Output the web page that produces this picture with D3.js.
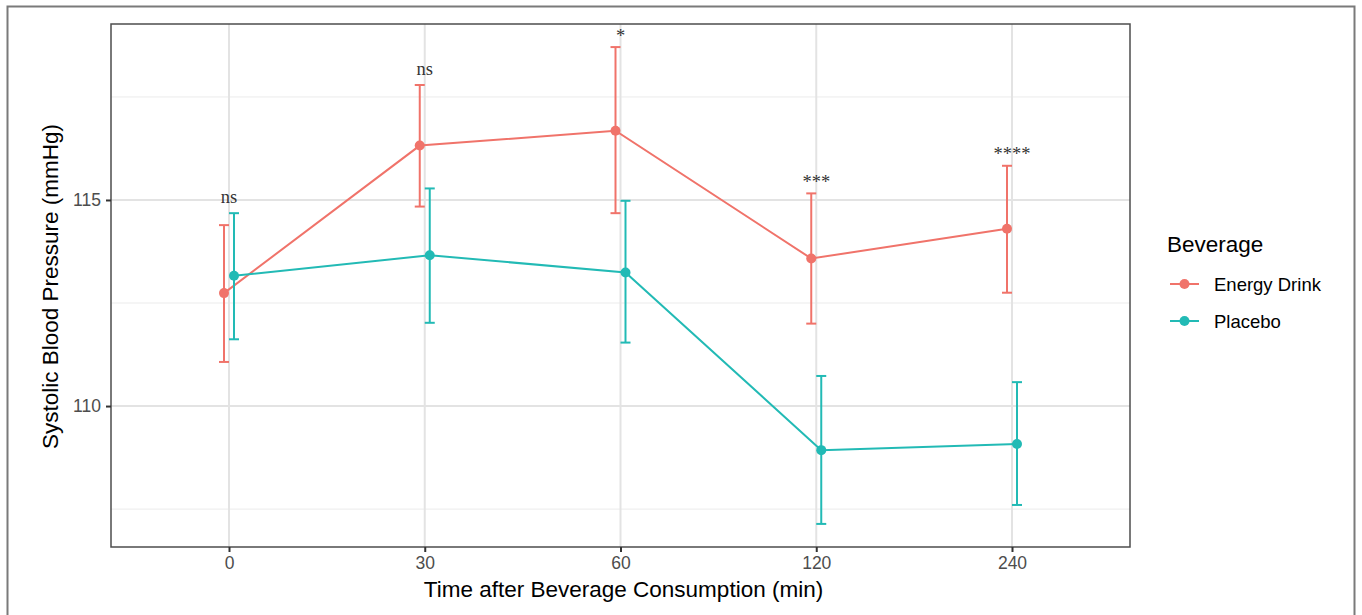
<!DOCTYPE html>
<html>
<head>
<meta charset="utf-8">
<script src="https://cdn.jsdelivr.net/npm/d3@7"></script>
<style>
  body { margin: 0; background: #fff; }
  svg { display: block; }
</style>
</head>
<body>
<svg id="chart" width="1362" height="615"></svg>
<script>
// ---- data ----
const times = ["0", "30", "60", "120", "240"];
const seriesNames = ["Energy Drink", "Placebo"];
const energyMean  = [112.74, 116.32, 116.68, 113.58, 114.30];
const energyLower = [111.07, 114.84, 114.68, 112.00, 112.75];
const energyUpper = [114.39, 117.79, 118.71, 115.16, 115.83];
const placeboMean  = [113.16, 113.66, 113.24, 108.93, 109.08];
const placeboLower = [111.62, 112.02, 111.54, 107.14, 107.60];
const placeboUpper = [114.68, 115.28, 114.98, 110.73, 110.58];
const significance = ["ns", "ns", "*", "***", "****"];
const yTicks = [110, 115];
const yMinor = [107.5, 112.5, 117.5];
const colors = ["#F0736A", "#22BAB5"];

const series = [
  { name: seriesNames[0], mean: energyMean, lo: energyLower, hi: energyUpper, color: colors[0], dodge: -1 },
  { name: seriesNames[1], mean: placeboMean, lo: placeboLower, hi: placeboUpper, color: colors[1], dodge: 1 }
];

const svg = d3.select("#chart");
const sans = "Liberation Sans, Arial, Helvetica, sans-serif";

// outer frame
svg.append("path")
  .attr("d", "M7.5,616 L7.5,6.5 L1354.5,6.5 L1354.5,616")
  .attr("fill", "none").attr("stroke", "#7a7a7a").attr("stroke-width", 2);

const L = 111, T = 24, R = 1130, B = 547;

const x = d3.scalePoint().domain(times).range([229, 1012]);
const y = d3.scaleLinear().domain([106.58, 119.27]).range([B, T]);
const dodgePx = 5;

const g = svg.append("g");

// grid
g.selectAll(".minor").data(yMinor).join("line")
  .attr("x1", L).attr("x2", R)
  .attr("y1", d => y(d)).attr("y2", d => y(d))
  .attr("stroke", "#ebebeb").attr("stroke-width", 1);
g.selectAll(".major").data(yTicks).join("line")
  .attr("x1", L).attr("x2", R)
  .attr("y1", d => y(d)).attr("y2", d => y(d))
  .attr("stroke", "#e3e3e3").attr("stroke-width", 2);
g.selectAll(".vmajor").data(times).join("line")
  .attr("x1", d => x(d)).attr("x2", d => x(d))
  .attr("y1", T).attr("y2", B)
  .attr("stroke", "#e3e3e3").attr("stroke-width", 2);

// series
series.forEach(s => {
  const off = s.dodge * dodgePx;
  const line = d3.line().x((d, i) => x(times[i]) + off).y(d => y(d));
  g.append("path").datum(s.mean)
    .attr("d", line).attr("fill", "none")
    .attr("stroke", s.color).attr("stroke-width", 2);
  times.forEach((t, i) => {
    const cx = x(t) + off;
    g.append("line").attr("x1", cx).attr("x2", cx)
      .attr("y1", y(s.lo[i])).attr("y2", y(s.hi[i]))
      .attr("stroke", s.color).attr("stroke-width", 2);
    [s.lo[i], s.hi[i]].forEach(v => {
      g.append("line").attr("x1", cx - 5).attr("x2", cx + 5)
        .attr("y1", y(v)).attr("y2", y(v))
        .attr("stroke", s.color).attr("stroke-width", 2);
    });
    g.append("circle").attr("cx", cx).attr("cy", y(s.mean[i]))
      .attr("r", 5).attr("fill", s.color);
  });
});

// significance labels (above the highest error bar)
times.forEach((t, i) => {
  const top = Math.max(energyUpper[i], placeboUpper[i]);
  const isStar = significance[i].startsWith("*");
  g.append("text")
    .attr("x", x(t)).attr("y", y(top) - (isStar ? 5.5 : 10))
    .attr("text-anchor", "middle")
    .attr("font-family", "Liberation Serif, serif")
    .attr("font-size", 18.5).attr("fill", "#333")
    .text(significance[i]);
});

// panel border
g.append("rect").attr("x", L).attr("y", T).attr("width", R - L).attr("height", B - T)
  .attr("fill", "none").attr("stroke", "#4d4d4d").attr("stroke-width", 1.5);

// axes
const xAxis = d3.axisBottom(x).tickSize(5).tickPadding(5);
const gx = svg.append("g").attr("transform", `translate(0,${B})`).call(xAxis);
gx.select(".domain").remove();
gx.selectAll(".tick line").attr("stroke", "#333").attr("stroke-width", 2);
gx.selectAll(".tick text").attr("font-family", sans)
  .attr("font-size", 17.5).attr("fill", "#4d4d4d");

const yAxis = d3.axisLeft(y).tickValues(yTicks).tickSize(5).tickPadding(5);
const gy = svg.append("g").attr("transform", `translate(${L},0)`).call(yAxis);
gy.select(".domain").remove();
gy.selectAll(".tick line").attr("stroke", "#333").attr("stroke-width", 2);
gy.selectAll(".tick text").attr("font-family", sans)
  .attr("font-size", 17.5).attr("fill", "#4d4d4d");

// axis titles
svg.append("text")
  .attr("x", (L + R) / 2 + 3).attr("y", 597)
  .attr("text-anchor", "middle")
  .attr("font-family", sans)
  .attr("font-size", 22.5).attr("fill", "#000")
  .text("Time after Beverage Consumption (min)");
svg.append("text")
  .attr("transform", `translate(58,${(T + B) / 2 + 1}) rotate(-90)`)
  .attr("text-anchor", "middle")
  .attr("font-family", sans)
  .attr("font-size", 22.5).attr("fill", "#000")
  .text("Systolic Blood Pressure (mmHg)");

// legend
const lg = svg.append("g");
lg.append("text").attr("x", 1167).attr("y", 252)
  .attr("font-family", sans)
  .attr("font-size", 22.5).attr("fill", "#000").text("Beverage");
series.forEach((s, i) => {
  const yy = 284 + i * 37;
  lg.append("line").attr("x1", 1170).attr("x2", 1199).attr("y1", yy).attr("y2", yy)
    .attr("stroke", s.color).attr("stroke-width", 2);
  lg.append("circle").attr("cx", 1184.5).attr("cy", yy).attr("r", 5).attr("fill", s.color);
  lg.append("text").attr("x", 1214).attr("y", yy + 6.5)
    .attr("font-family", sans)
    .attr("font-size", 18.5).attr("fill", "#000").text(s.name);
});
</script>
</body>
</html>
